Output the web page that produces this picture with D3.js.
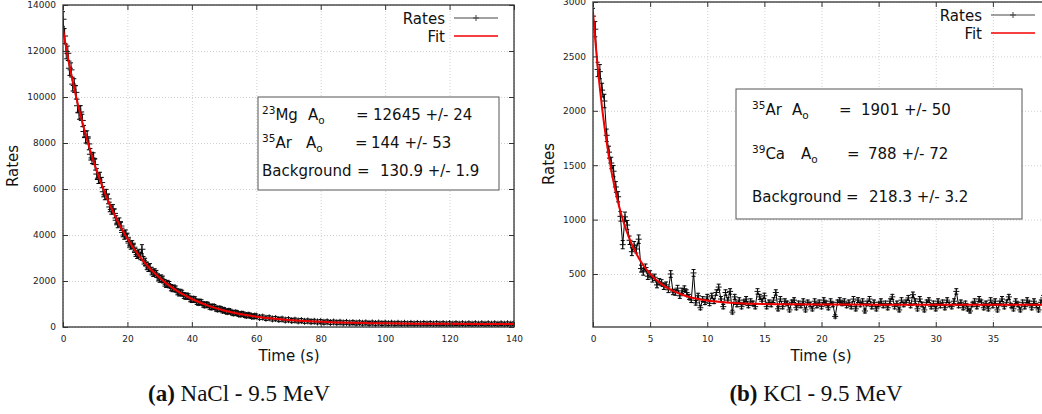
<!DOCTYPE html>
<html>
<head>
<meta charset="utf-8">
<script src="https://cdn.jsdelivr.net/npm/d3@7"></script>
<style>
  body { margin: 0; background: #fff; }
  svg { display: block; font-family: "DejaVu Sans", sans-serif; }
  .grid line { stroke: #c4c4c4; stroke-width: 0.8; stroke-dasharray: 1,2; }
  .grid path { display: none; }
  .axis line { stroke: #333; stroke-width: 1; }
  .axis text { font-family: "DejaVu Sans", sans-serif; font-size: 9px; fill: #222; }
</style>
</head>
<body>
<div id="chart"></div>
<script>
// ---- (a) NaCl 9.5 MeV ----
var naclTime = [
  0, 0.5, 1, 1.5, 2, 2.5, 3, 3.5, 4, 4.5,
  5, 5.5, 6, 6.5, 7, 7.5, 8, 8.5, 9, 9.5,
  10, 10.5, 11, 11.5, 12, 12.5, 13, 13.5, 14, 14.5,
  15, 15.5, 16, 16.5, 17, 17.5, 18, 18.5, 19, 19.5,
  20, 20.5, 21, 21.5, 22, 22.5, 23, 23.5, 24, 24.5,
  25, 25.5, 26, 26.5, 27, 27.5, 28, 28.5, 29, 29.5,
  30, 30.5, 31, 31.5, 32, 32.5, 33, 33.5, 34, 34.5,
  35, 35.5, 36, 36.5, 37, 37.5, 38, 38.5, 39, 39.5,
  40, 40.5, 41, 41.5, 42, 42.5, 43, 43.5, 44, 44.5,
  45, 45.5, 46, 46.5, 47, 47.5, 48, 48.5, 49, 49.5,
  50, 50.5, 51, 51.5, 52, 52.5, 53, 53.5, 54, 54.5,
  55, 55.5, 56, 56.5, 57, 57.5, 58, 58.5, 59, 59.5,
  60, 61, 62, 63, 64, 65, 66, 67, 68, 69,
  70, 71, 72, 73, 74, 75, 76, 77, 78, 79,
  80, 81, 82, 83, 84, 85, 86, 87, 88, 89,
  90, 91, 92, 93, 94, 95, 96, 97, 98, 99,
  100, 101, 102, 103, 104, 105, 106, 107, 108, 109,
  110, 111, 112, 113, 114, 115, 116, 117, 118, 119,
  120, 121, 122, 123, 124, 125, 126, 127, 128, 129,
  130, 131, 132, 133, 134, 135, 136, 137, 138, 139,
  140
];
var naclRate = [
  13380, 12650, 11980, 11900, 11250, 11180, 10560, 10500, 10200, 9620,
  9310, 9350, 8980, 8500, 8260, 8270, 7960, 7510, 7350, 7330,
  7060, 6650, 6470, 6500, 6280, 5880, 5750, 5770, 5570, 5220,
  5110, 5120, 4940, 4640, 4510, 4550, 4390, 4110, 4000, 4040,
  3900, 3650, 3560, 3580, 3470, 3240, 3150, 3190, 3090, 3380,
  2900, 2830, 2650, 2570, 2600, 2420, 2350, 2380, 2310, 2150,
  2090, 2120, 2070, 1920, 1860, 1890, 1840, 1710, 1670, 1690,
  1650, 1530, 1480, 1510, 1470, 1370, 1330, 1350, 1320, 1220,
  1190, 1210, 1190, 1100, 1060, 1090, 1070, 980, 950, 975,
  960, 885, 860, 880, 870, 800, 775, 795, 780, 720,
  735, 685, 665, 690, 670, 618, 600, 622, 605, 562,
  548, 568, 552, 512, 500, 518, 505, 466, 458, 474,
  470, 415, 430, 380, 398, 350, 366, 325, 342, 300,
  318, 280, 298, 262, 280, 246, 262, 232, 248, 218,
  236, 206, 225, 196, 216, 188, 207, 180, 200, 174,
  192, 167, 186, 162, 181, 157, 177, 153, 173, 149,
  169, 146, 166, 143, 163, 141, 161, 138, 158, 136,
  156, 134, 155, 133, 153, 131, 152, 130, 150, 128,
  149, 127, 148, 126, 147, 125, 146, 124, 146, 124,
  145, 123, 144, 124, 144, 122, 143, 123, 143, 123,
  142
];
var naclErr = [
  330, 325, 320, 315, 310, 305, 300, 295, 290, 285,
  280, 275, 270, 266, 262, 258, 255, 251, 248, 244,
  240, 236, 232, 228, 225, 221, 218, 215, 212, 208,
  205, 202, 200, 197, 195, 192, 190, 187, 185, 182,
  180, 178, 176, 174, 172, 170, 168, 166, 165, 200,
  162, 160, 158, 156, 155, 153, 152, 150, 149, 147,
  146, 144, 143, 141, 140, 139, 138, 136, 135, 134,
  133, 131, 130, 129, 128, 127, 126, 125, 124, 123,
  122, 121, 120, 119, 118, 117, 116, 115, 114, 113,
  113, 112, 111, 110, 110, 109, 108, 107, 107, 106,
  105, 104, 104, 103, 103, 102, 102, 101, 101, 100,
  100, 99, 99, 98, 98, 97, 97, 96, 96, 95,
  95, 95, 94, 94, 93, 93, 92, 92, 91, 91,
  90, 90, 90, 89, 89, 89, 88, 88, 88, 87,
  87, 87, 87, 86, 86, 86, 86, 85, 85, 85,
  85, 85, 84, 84, 84, 84, 84, 84, 83, 83,
  83, 83, 83, 83, 83, 83, 82, 82, 82, 82,
  82, 82, 82, 82, 82, 82, 82, 82, 82, 82,
  81, 81, 81, 81, 81, 81, 81, 81, 81, 81,
  81, 81, 81, 81, 81, 81, 81, 81, 81, 81,
  81
];
var naclFitTime = [0, 2, 4, 6, 8, 10, 12, 14, 16, 18, 20, 22, 24, 26, 28, 30, 32, 34, 36, 38, 40,
  45, 50, 55, 60, 65, 70, 75, 80, 85, 90, 95, 100, 110, 120, 130, 140];
var naclFit = [12920, 11382, 10055, 8897, 7878, 6982, 6189, 5489, 4870, 4323, 3839, 3411, 3032, 2697, 2401,
  2139, 1907, 1702, 1520, 1360, 1218, 931, 719, 564, 450, 365, 303, 258, 224, 200, 181, 168, 158,
  145, 138, 135, 133];
var naclXTicks = [0, 20, 40, 60, 80, 100, 120, 140];
var naclYTicks = [0, 2000, 4000, 6000, 8000, 10000, 12000, 14000];

// ---- (b) KCl 9.5 MeV ----
var kclTime = [
  0, 0.2, 0.4, 0.6, 0.8, 1, 1.2, 1.4, 1.6, 1.8,
  2, 2.2, 2.4, 2.6, 2.8, 3, 3.2, 3.4, 3.6, 3.8,
  4, 4.2, 4.4, 4.6, 4.8, 5, 5.2, 5.4, 5.6, 5.8,
  6, 6.2, 6.4, 6.6, 6.8, 7, 7.2, 7.4, 7.6, 7.8,
  8, 8.2, 8.4, 8.6, 8.8, 9, 9.2, 9.4, 9.6, 9.8,
  10, 10.2, 10.4, 10.6, 10.8, 11, 11.2, 11.4, 11.6, 11.8,
  12, 12.2, 12.4, 12.6, 12.8, 13, 13.2, 13.4, 13.6, 13.8,
  14, 14.2, 14.4, 14.6, 14.8, 15, 15.2, 15.4, 15.6, 15.8,
  16, 16.2, 16.4, 16.6, 16.8, 17, 17.2, 17.4, 17.6, 17.8,
  18, 18.2, 18.4, 18.6, 18.8, 19, 19.2, 19.4, 19.6, 19.8,
  20, 20.2, 20.4, 20.6, 20.8, 21, 21.2, 21.4, 21.6, 21.8,
  22, 22.2, 22.4, 22.6, 22.8, 23, 23.2, 23.4, 23.6, 23.8,
  24, 24.2, 24.4, 24.6, 24.8, 25, 25.2, 25.4, 25.6, 25.8,
  26, 26.2, 26.4, 26.6, 26.8, 27, 27.2, 27.4, 27.6, 27.8,
  28, 28.2, 28.4, 28.6, 28.8, 29, 29.2, 29.4, 29.6, 29.8,
  30, 30.2, 30.4, 30.6, 30.8, 31, 31.2, 31.4, 31.6, 31.8,
  32, 32.2, 32.4, 32.6, 32.8, 33, 33.2, 33.4, 33.6, 33.8,
  34, 34.2, 34.4, 34.6, 34.8, 35, 35.2, 35.4, 35.6, 35.8,
  36, 36.2, 36.4, 36.6, 36.8, 37, 37.2, 37.4, 37.6, 37.8,
  38, 38.2, 38.4, 38.6, 38.8, 39, 39.2, 39.4, 39.6, 39.8
];
var kclRate = [
  2870, 2750, 2380, 2360, 2190, 2090, 1775, 1620, 1520, 1445,
  1300, 1210, 1030, 770, 1025, 950, 810, 705, 760, 730,
  820, 550, 520, 560, 480, 500, 455, 470, 400, 430,
  420, 385, 400, 355, 500, 335, 330, 370, 300, 345,
  365, 330, 290, 260, 510, 235, 300, 190, 270, 240,
  290, 230, 300, 250, 330, 380, 270, 200, 330, 260,
  340, 150, 290, 220, 260, 200, 240, 270, 210, 250,
  230, 200, 340, 290, 250, 300, 200, 240, 220, 260,
  330, 180, 270, 200, 250, 230, 170, 240, 260, 190,
  230, 210, 250, 170, 240, 220, 180, 250, 210, 240,
  200, 260, 230, 190, 250, 220, 110, 240, 260, 230,
  250, 210, 240, 200, 270, 180, 260, 220, 250, 160,
  230, 270, 200, 240, 180, 220, 250, 210, 230, 190,
  250, 290, 200, 230, 170, 260, 220, 240, 280, 210,
  310, 250, 180, 270, 220, 170, 240, 260, 200, 230,
  180, 250, 210, 240, 190, 260, 220, 200, 250, 340,
  210, 240, 190, 230, 180, 160, 220, 250, 200, 270,
  240, 190, 230, 180, 260, 210, 250, 170, 230, 270,
  200, 240, 290, 210, 180, 250, 220, 170, 240, 200,
  260, 230, 190, 250, 210, 170, 240, 280, 220, 190
];
var kclErr = [
  72, 70, 66, 65, 63, 62, 57, 55, 53, 52,
  49, 47, 44, 38, 44, 42, 39, 36, 38, 37,
  39, 32, 31, 32, 30, 30, 29, 29, 27, 28,
  28, 27, 27, 26, 31, 25, 25, 26, 24, 25,
  26, 25, 23, 22, 31, 21, 23, 19, 22, 21,
  23, 21, 23, 22, 25, 27, 23, 20, 25, 22,
  25, 17, 23, 21, 22, 20, 21, 23, 20, 22,
  21, 20, 25, 23, 22, 24, 20, 21, 21, 22,
  25, 19, 23, 20, 22, 21, 18, 21, 22, 19,
  21, 20, 22, 18, 21, 21, 19, 22, 20, 21,
  20, 22, 21, 19, 22, 21, 15, 21, 22, 21,
  22, 20, 21, 20, 23, 19, 22, 21, 22, 18,
  21, 23, 20, 21, 19, 21, 22, 20, 21, 19,
  22, 23, 20, 21, 18, 22, 21, 21, 23, 20,
  24, 22, 19, 23, 21, 18, 21, 22, 20, 21,
  19, 22, 20, 21, 19, 22, 21, 20, 22, 25,
  20, 21, 19, 21, 19, 18, 21, 22, 20, 23,
  21, 19, 21, 19, 22, 20, 22, 18, 21, 23,
  20, 21, 23, 20, 19, 22, 21, 18, 21, 20,
  22, 21, 19, 22, 20, 18, 21, 23, 21, 19
];
var kclFitTime = [0, 0.2, 0.4, 0.6, 0.8, 1, 1.2, 1.4, 1.6, 1.8, 2, 2.2, 2.4, 2.6, 2.8, 3, 3.2, 3.4, 3.6, 3.8, 4,
  4.5, 5, 5.5, 6, 6.5, 7, 7.5, 8, 8.5, 9, 9.5, 10, 11, 12, 13, 14, 15, 17, 20, 25, 30, 35, 40];
var kclFit = [2907, 2647, 2415, 2208, 2022, 1857, 1707, 1574, 1453, 1345, 1246, 1157, 1077, 1004, 937, 877,
  823, 773, 727, 686, 648, 567, 502, 449, 407, 372, 345, 322, 303, 287, 275, 264, 256, 244, 236, 230,
  226, 224, 221, 219, 218.5, 218.3, 218.3, 218.3];
var kclXTicks = [0, 5, 10, 15, 20, 25, 30, 35];
var kclYTicks = [500, 1000, 1500, 2000, 2500, 3000];

var W = 1042, H = 414;
var svg = d3.select("#chart").append("svg").attr("width", W).attr("height", H);

// text with super/subscripts: segs = [text, kind, x]
function richText(g, x, y, segs, size) {
  var t = g.append("text").attr("x", x).attr("y", y)
    .attr("xml:space", "preserve")
    .style("font-size", size + "px").style("fill", "#111");
  var shift = 0;
  segs.forEach(function(s) {
    var target = s[1] == "sup" ? -6 : (s[1] == "sub" ? 4 : 0);
    var ts = t.append("tspan").text(s[0]).attr("dy", target - shift);
    if (s[1]) ts.style("font-size", "10.5px");
    if (s[2] != null) ts.attr("x", s[2]);
    shift = target;
  });
}

function drawPanel(p) {
  var x = d3.scaleLinear().domain(p.xDomain).range([p.left, p.right]);
  var y = d3.scaleLinear().domain(p.yDomain).range([p.bottom, p.top]);
  var w = p.right - p.left, h = p.bottom - p.top;
  var g = svg.append("g");

  // dotted grid
  g.append("g").attr("class", "grid").attr("transform", "translate(0," + p.bottom + ")")
    .call(d3.axisBottom(x).tickValues(p.xTicks).tickSize(-h).tickFormat(""));
  g.append("g").attr("class", "grid").attr("transform", "translate(" + p.left + ",0)")
    .call(d3.axisLeft(y).tickValues(p.yTicks).tickSize(-w).tickFormat(""));

  svg.append("clipPath").attr("id", "clip-" + p.id)
    .append("rect").attr("x", p.left).attr("y", p.top).attr("width", w).attr("height", h);

  var data = p.time.map(function(t, i) { return {t: t, v: p.rate[i], e: p.err[i]}; });
  var fit = p.fitTime.map(function(t, i) { return {t: t, v: p.fit[i]}; });
  var dg = g.append("g").attr("clip-path", "url(#clip-" + p.id + ")");

  dg.append("path").datum(data)
    .attr("d", d3.line().x(function(d) { return x(d.t); }).y(function(d) { return y(d.v); }))
    .attr("fill", "none").attr("stroke", "#000").attr("stroke-width", 1);

  // error bars
  dg.append("g").selectAll("path").data(data).join("path")
    .attr("d", function(d) {
      var cx = x(d.t), y0 = y(d.v - d.e), y1 = y(d.v + d.e);
      return "M" + cx + "," + y0 + "V" + y1 + "M" + (cx - 2) + "," + y0 + "h4M" + (cx - 2) + "," + y1 + "h4";
    })
    .attr("fill", "none").attr("stroke", "#000").attr("stroke-width", 1);

  // "+" points
  var m = p.mark;
  dg.append("g").selectAll("path").data(data).join("path")
    .attr("d", function(d) {
      var cx = x(d.t), cy = y(d.v);
      return "M" + (cx - m) + "," + cy + "h" + (2 * m) + "M" + cx + "," + (cy - m) + "v" + (2 * m);
    })
    .attr("fill", "none").attr("stroke", "#111").attr("stroke-width", 1);

  // fit curve
  dg.append("path").datum(fit)
    .attr("d", d3.line().curve(d3.curveMonotoneX).x(function(d) { return x(d.t); }).y(function(d) { return y(d.v); }))
    .attr("fill", "none").attr("stroke", "#f00000").attr("stroke-width", 2);

  // axes with inward ticks, mirrored on top/right
  var ax = g.append("g").attr("class", "axis").attr("transform", "translate(0," + p.bottom + ")")
    .call(d3.axisBottom(x).tickValues(p.xTicks).tickSizeInner(-5).tickSizeOuter(0).tickPadding(9).tickFormat(d3.format("d")));
  var ay = g.append("g").attr("class", "axis").attr("transform", "translate(" + p.left + ",0)")
    .call(d3.axisLeft(y).tickValues(p.yTicks).tickSizeInner(-5).tickSizeOuter(0).tickPadding(7).tickFormat(d3.format("d")));
  var at = g.append("g").attr("class", "axis").attr("transform", "translate(0," + p.top + ")")
    .call(d3.axisTop(x).tickValues(p.xTicks).tickSizeInner(-5).tickSizeOuter(0).tickFormat(""));
  var ar = g.append("g").attr("class", "axis").attr("transform", "translate(" + p.right + ",0)")
    .call(d3.axisRight(y).tickValues(p.yTicks).tickSizeInner(-5).tickSizeOuter(0).tickFormat(""));
  [ax, ay, at, ar].forEach(function(a) { a.select(".domain").remove(); });

  g.append("rect").attr("x", p.left).attr("y", p.top).attr("width", w).attr("height", h)
    .attr("fill", "none").attr("stroke", "#333").attr("stroke-width", 1.3);

  // legend
  var lg = g.append("g").style("font-size", "15px").style("fill", "#111");
  lg.append("text").attr("x", p.legX).attr("y", p.legY + 6).attr("text-anchor", "end").text("Rates");
  lg.append("line").attr("x1", p.legX + 9).attr("x2", p.legX + 53).attr("y1", p.legY).attr("y2", p.legY)
    .attr("stroke", "#444").attr("stroke-width", 1);
  lg.append("path").attr("d", "M" + (p.legX + 28) + "," + p.legY + "h6M" + (p.legX + 31) + "," + (p.legY - 3) + "v6")
    .attr("stroke", "#444").attr("stroke-width", 1);
  lg.append("text").attr("x", p.legX).attr("y", p.legY + 24).attr("text-anchor", "end").text("Fit");
  lg.append("line").attr("x1", p.legX + 9).attr("x2", p.legX + 53).attr("y1", p.legY + 18).attr("y2", p.legY + 18)
    .attr("stroke", "#f00000").attr("stroke-width", 1.5);

  // fit result box
  var b = p.box;
  g.append("rect").attr("x", b.x).attr("y", b.y).attr("width", b.w).attr("height", b.h)
    .attr("fill", "#fff").attr("stroke", "#555").attr("stroke-width", 1);
  b.lines.forEach(function(l) {
    richText(g, b.tx, l.y, l.segs, 15);
    g.append("text").attr("x", l.ex).attr("y", l.y).attr("xml:space", "preserve")
      .style("font-size", "15px").style("fill", "#111").text("=");
    g.append("text").attr("x", l.vx).attr("y", l.y).attr("xml:space", "preserve")
      .style("font-size", "15px").style("fill", "#111").text(l.value);
  });

  // axis titles
  g.append("text").attr("transform", "translate(" + p.ylabX + "," + p.ylabY + ") rotate(-90)")
    .attr("text-anchor", "middle").attr("dy", "0.35em").style("font-size", "15px").style("fill", "#111").text("Rates");
  g.append("text").attr("x", p.xlabX).attr("y", 361)
    .attr("text-anchor", "middle").style("font-size", "15px").style("fill", "#111").text("Time (s)");

  // caption
  var cap = g.append("text").attr("x", p.capX).attr("y", 401).attr("text-anchor", "middle")
    .style("font-family", "'Liberation Serif', serif").style("font-size", "23px").style("fill", "#111");
  cap.append("tspan").style("font-weight", "bold").text(p.capTag);
  cap.append("tspan").text(" " + p.capText);
}

drawPanel({
  id: "a", left: 63, right: 514, top: 5, bottom: 327, mark: 3.5,
  xDomain: [0, 140], yDomain: [0, 14000], xTicks: naclXTicks, yTicks: naclYTicks,
  time: naclTime, rate: naclRate, err: naclErr, fitTime: naclFitTime, fit: naclFit,
  legX: 445, legY: 18,
  box: {x: 258, y: 97, w: 241, h: 93, tx: 262, lines: [
    {y: 120, segs: [["23", "sup"], ["Mg", ""], ["A", "", 308], ["o", "sub"]], ex: 356, vx: 373, value: "12645 +/- 24"},
    {y: 148, segs: [["35", "sup"], ["Ar", ""], ["A", "", 306], ["o", "sub"]], ex: 355, vx: 371, value: "144 +/- 53"},
    {y: 176, segs: [["Background", ""]], ex: 357, vx: 380, value: "130.9 +/- 1.9"}
  ]},
  ylabX: 13, ylabY: 166, xlabX: 289,
  capX: 239, capTag: "(a)", capText: "NaCl - 9.5 MeV"
});

drawPanel({
  id: "b", left: 593, right: 1050, top: 2, bottom: 327, mark: 3,
  xDomain: [0, 40], yDomain: [13, 3000], xTicks: kclXTicks, yTicks: kclYTicks,
  time: kclTime, rate: kclRate, err: kclErr, fitTime: kclFitTime, fit: kclFit,
  legX: 982, legY: 15,
  box: {x: 736, y: 89, w: 286, h: 130, tx: 752, lines: [
    {y: 115, segs: [["35", "sup"], ["Ar", ""], ["A", "", 792], ["o", "sub"]], ex: 839, vx: 861, value: "1901 +/- 50"},
    {y: 159, segs: [["39", "sup"], ["Ca", ""], ["A", "", 801], ["o", "sub"]], ex: 847, vx: 868, value: "788 +/- 72"},
    {y: 202, segs: [["Background", ""]], ex: 846, vx: 869, value: "218.3 +/- 3.2"}
  ]},
  ylabX: 549, ylabY: 164, xlabX: 821,
  capX: 816, capTag: "(b)", capText: "KCl - 9.5 MeV"
});
</script>
</body>
</html>
